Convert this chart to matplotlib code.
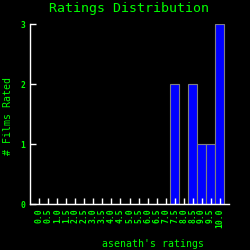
import numpy as np
import matplotlib
matplotlib.use('Agg')
import matplotlib.pyplot as plt

## ratings histogram data
ratings = ['0.0', '0.5', '1.0', '1.5', '2.0', '2.5', '3.0', '3.5', '4.0', '4.5', '5.0',
           '5.5', '6.0', '6.5', '7.0', '7.5', '8.0', '8.5', '9.0', '9.5', '10.0']
counts = [0, 0, 0, 0, 0, 0, 0, 0, 0, 0, 0,
          0, 0, 0, 0, 2, 0, 2, 1, 1, 3]
yticks = [0, 1, 2, 3]

green = '#00ff00'
plt.rcParams['font.family'] = ['DejaVu Sans Mono']

fig = plt.figure(figsize=(2.5, 2.5), dpi=100, facecolor='black')
ax = fig.add_axes([0.12, 0.184, 0.796, 0.72], facecolor='black')

x = np.arange(len(ratings))
ax.bar(x, counts, width=1.0, color='#0000ff', edgecolor='#808080', linewidth=0.8)

ax.set_xlim(-1.05, len(ratings) + 0.05)
ax.set_ylim(0, 3)
ax.set_xticks(x)
ax.set_xticklabels(ratings, rotation=90, fontsize=5.8, color=green, fontweight='bold')
ax.set_yticks(yticks)
ax.set_yticklabels([str(v) for v in yticks], fontsize=5.8, color=green, fontweight='bold')
ax.tick_params(direction='in', colors='white', length=4, width=1)
ax.tick_params(axis='x', labelcolor=green, pad=3)
ax.tick_params(axis='y', labelcolor=green, pad=3.5)

for s in ['top', 'right']:
    ax.spines[s].set_visible(False)
for s in ['left', 'bottom']:
    ax.spines[s].set_color('white')
    ax.spines[s].set_linewidth(1)

fig.text(0.516, 0.966, 'Ratings Distribution', color=green, fontsize=9.5,
         ha='center', va='center')
fig.text(0.61, 0.025, "asenath's ratings", color=green, fontsize=7.1,
         ha='center', va='center')
fig.text(0.032, 0.536, '# Films Rated', color=green, fontsize=7.1,
         ha='center', va='center', rotation=90)

plt.savefig('out.png', dpi=100, facecolor='black')
